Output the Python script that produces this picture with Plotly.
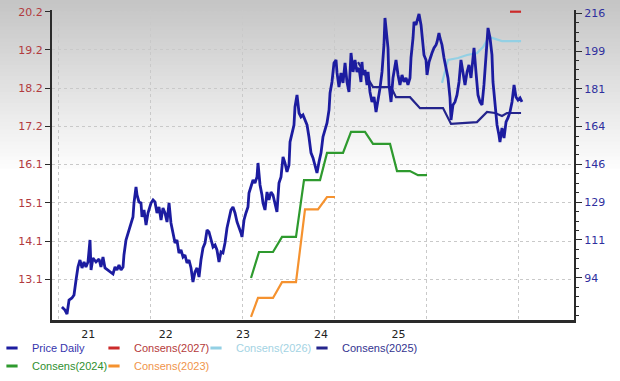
import plotly.graph_objects as go

# ---------------- data ----------------
price_t = [2021.043, 2021.076, 2021.098, 2021.120, 2021.152, 2021.174, 2021.196, 2021.217, 2021.239, 2021.261,
           2021.283, 2021.304, 2021.326, 2021.348, 2021.359, 2021.380, 2021.413, 2021.446, 2021.467, 2021.489,
           2021.511, 2021.543, 2021.576, 2021.598, 2021.620, 2021.641, 2021.663, 2021.685, 2021.707, 2021.717,
           2021.739, 2021.772, 2021.793, 2021.815, 2021.826, 2021.848, 2021.859, 2021.880, 2021.902, 2021.913,
           2021.935, 2021.957, 2021.978, 2022.011, 2022.033, 2022.054, 2022.076, 2022.098, 2022.120, 2022.141,
           2022.163, 2022.185, 2022.207, 2022.228, 2022.250, 2022.272, 2022.293, 2022.315, 2022.337, 2022.359,
           2022.380, 2022.402, 2022.424, 2022.446, 2022.467, 2022.489, 2022.511, 2022.533, 2022.554, 2022.576,
           2022.598, 2022.620, 2022.641, 2022.663, 2022.685, 2022.707, 2022.728, 2022.750, 2022.772, 2022.793,
           2022.815, 2022.837, 2022.859, 2022.880, 2022.902, 2022.924, 2022.946, 2022.967, 2022.989, 2023.000,
           2023.022, 2023.043, 2023.065, 2023.076, 2023.098, 2023.120, 2023.141, 2023.163, 2023.174, 2023.196,
           2023.217, 2023.228, 2023.250, 2023.272, 2023.293, 2023.315, 2023.337, 2023.359, 2023.380, 2023.402,
           2023.424, 2023.446, 2023.467, 2023.489, 2023.511, 2023.522, 2023.543, 2023.565, 2023.576, 2023.598,
           2023.620, 2023.641, 2023.663, 2023.685, 2023.707, 2023.728, 2023.750, 2023.772, 2023.793, 2023.815,
           2023.837, 2023.859, 2023.880, 2023.902, 2023.924, 2023.946, 2023.957, 2023.978, 2024.000, 2024.022,
           2024.033, 2024.054, 2024.076, 2024.098, 2024.120, 2024.141, 2024.163, 2024.185, 2024.207, 2024.228,
           2024.250, 2024.272, 2024.293, 2024.304, 2024.315, 2024.337, 2024.359, 2024.370, 2024.391, 2024.413,
           2024.435, 2024.457, 2024.478, 2024.500, 2024.522, 2024.543, 2024.554, 2024.565, 2024.587, 2024.598,
           2024.620, 2024.641, 2024.663, 2024.674, 2024.696, 2024.717, 2024.739, 2024.761, 2024.783, 2024.804,
           2024.826, 2024.837, 2024.859, 2024.870, 2024.891, 2024.913, 2024.924, 2024.946, 2024.967, 2024.978,
           2025.000, 2025.011, 2025.033, 2025.054, 2025.065, 2025.087, 2025.109, 2025.120, 2025.141, 2025.152,
           2025.174, 2025.196, 2025.217, 2025.239, 2025.261, 2025.272, 2025.293, 2025.315, 2025.337, 2025.359,
           2025.380, 2025.402, 2025.424, 2025.446, 2025.467, 2025.489, 2025.511, 2025.522, 2025.543, 2025.565,
           2025.587, 2025.609, 2025.630, 2025.652, 2025.663, 2025.674, 2025.696, 2025.717, 2025.728, 2025.750,
           2025.772, 2025.793, 2025.804, 2025.826, 2025.848, 2025.870, 2025.891, 2025.913, 2025.935, 2025.957,
           2025.978, 2026.000, 2026.022, 2026.043]
price_v = [80.31, 78.92, 77.07, 83.54, 84.46, 85.85, 92.78, 98.79, 102.02, 98.33,
           101.10, 98.79, 101.10, 111.26, 97.40, 102.94, 101.10, 102.48, 98.79, 103.41,
           98.33, 97.40, 96.48, 95.55, 98.79, 97.40, 99.71, 97.40, 98.79, 104.33,
           111.26, 115.88, 118.19, 121.89, 128.35, 135.75, 132.05, 128.82, 128.35, 121.89,
           125.12, 118.19, 123.73, 128.35, 129.74, 128.80, 123.73, 126.51, 120.50, 126.04,
           123.73, 119.58, 128.35, 119.11, 114.49, 109.87, 111.26, 105.25, 106.64, 103.41,
           104.33, 100.63, 102.02, 98.33, 91.86, 96.48, 98.33, 94.17, 102.02, 107.56,
           109.87, 115.88, 114.96, 111.26, 108.03, 108.95, 106.64, 101.10, 105.72, 105.25,
           109.87, 116.80, 121.89, 125.12, 126.51, 123.73, 119.58, 117.27, 114.49, 112.65,
           120.50, 123.73, 126.51, 132.97, 135.75, 138.98, 137.59, 140.37, 146.83, 136.67,
           132.05, 128.35, 125.12, 133.44, 129.74, 133.44, 132.05, 127.43, 124.20, 137.59,
           140.37, 149.61, 146.83, 142.68, 145.91, 156.54, 160.69, 164.39, 172.71, 178.25,
           169.93, 168.09, 169.01, 166.70, 164.39, 158.85, 151.53, 149.14, 144.99, 142.21,
           147.30, 151.53, 158.85, 162.08, 165.31, 171.32, 179.17, 184.26, 193.03, 194.42,
           188.41, 181.95, 188.41, 183.79, 193.03, 184.26, 179.64, 197.65, 188.88, 194.42,
           188.88, 190.72, 184.26, 193.50, 187.49, 189.80, 182.87, 188.88, 179.64, 175.02,
           177.33, 170.40, 175.02, 181.40, 188.88, 201.35, 213.82, 209.20, 199.96, 182.87,
           175.02, 186.10, 192.11, 194.42, 187.49, 182.87, 187.49, 184.26, 186.10, 182.87,
           186.10, 195.34, 204.58, 211.98, 210.59, 213.82, 215.67, 210.59, 202.74, 196.73,
           194.42, 187.49, 193.50, 196.73, 197.65, 199.96, 201.35, 202.74, 206.89, 204.58,
           201.35, 195.34, 190.72, 186.10, 176.86, 166.70, 173.63, 175.02, 178.25, 184.26,
           194.42, 188.88, 182.87, 188.88, 192.11, 186.10, 195.34, 199.96, 188.88, 178.25,
           175.02, 173.63, 182.87, 196.73, 207.36, 209.20, 204.58, 196.73, 184.26, 172.24,
           164.39, 159.77, 156.54, 163.00, 158.38, 165.78, 167.62, 170.40, 175.02, 182.87,
           177.33, 175.94, 176.86, 175.02]

cons2027_t = [2025.913, 2026.033]
cons2027_v = [20.20, 20.20]
cons2026_t = [2025.174, 2025.239, 2025.348, 2025.446, 2025.554, 2025.620, 2025.685, 2025.728, 2025.826, 2026.033]
cons2026_v = [18.31, 18.92, 18.97, 19.05, 19.10, 19.26, 19.53, 19.50, 19.42, 19.42]
cons2025_t = [2024.261, 2024.424, 2024.620, 2024.674, 2024.826, 2024.935, 2025.185, 2025.272, 2025.554,
              2025.663, 2025.750, 2025.826, 2025.880, 2026.033]
cons2025_v = [18.86, 18.20, 18.20, 17.93, 17.93, 17.64, 17.64, 17.22, 17.27, 17.54, 17.51, 17.43, 17.51, 17.51]
cons2024_t = [2023.098, 2023.185, 2023.337, 2023.435, 2023.587, 2023.674, 2023.848, 2023.924, 2024.098,
              2024.185, 2024.337, 2024.424, 2024.609, 2024.685, 2024.826, 2024.913, 2025.011]
cons2024_v = [13.13, 13.82, 13.82, 14.22, 14.22, 15.73, 15.73, 16.45, 16.45, 17.01, 17.01, 16.69, 16.69,
              15.97, 15.97, 15.86, 15.86]
cons2023_t = [2023.098, 2023.174, 2023.337, 2023.435, 2023.587, 2023.685, 2023.826, 2023.924, 2024.011]
cons2023_v = [12.10, 12.60, 12.60, 13.02, 13.02, 14.95, 14.95, 15.28, 15.28]

x_tick_pos = [2021.33, 2022.17, 2023.01, 2023.86, 2024.70]
x_tick_text = ["21", "22", "23", "24", "25"]
x_grid_pos = [2021, 2022, 2023, 2024, 2025, 2026]
eps_tick_pos = [13.095, 14.11, 15.125, 16.14, 17.155, 18.17, 19.185, 20.2]
eps_tick_text = ["13.1", "14.1", "15.1", "16.1", "17.2", "18.2", "19.2", "20.2"]
price_tick_pos = [93.85, 111.3, 128.75, 146.2, 163.65, 181.1, 198.55, 216.0]
price_tick_text = ["94", "111", "129", "146", "164", "181", "199", "216"]

# ---------------- styles ----------------
W, H = 620, 381
L, R, T, B = 52, 46, 10, 61
series = [
    # name, x, y, axis, line colour, legend text colour, width, legend id, legend x(px), legend row y(px)
    ("Price Daily", price_t, price_v, "y2", "#1c1ca0", "#3535ad", 2.8, "legend", 0, 348),
    ("Consens(2027)", cons2027_t, cons2027_v, "y", "#cc2a2a", "#b53a3a", 2.2, "legend2", 102, 348),
    ("Consens(2026)", cons2026_t, cons2026_v, "y", "#93d0e4", "#a3d3e3", 2.2, "legend3", 204, 348),
    ("Consens(2025)", cons2025_t, cons2025_v, "y", "#24248c", "#33338f", 2.2, "legend4", 310, 348),
    ("Consens(2024)", cons2024_t, cons2024_v, "y", "#2e9a2e", "#2f8f2f", 2.2, "legend5", 0, 366),
    ("Consens(2023)", cons2023_t, cons2023_v, "y", "#f5922f", "#f0944a", 2.2, "legend6", 102, 366),
]

fig = go.Figure()

# consensus lines first (left axis), price on top (right axis)
for name, xs, ys, yax, col, tcol, w, leg, lx, ly in series[1:] + series[:1]:
    fig.add_trace(go.Scatter(x=xs, y=ys, yaxis=yax, mode="lines", name=name,
                             line=dict(color=col, width=w), legendgroup=name,
                             showlegend=False, hoverinfo="x+y+name"))

# legend entries (short dash symbol, coloured text)
legends = {}
for name, xs, ys, yax, col, tcol, w, leg, lx, ly in series:
    fig.add_trace(go.Scatter(x=[None], y=[None], yaxis=yax, mode="markers",
                             name=f'<span style="color:{tcol}">{name}</span>',
                             marker=dict(symbol="line-ew-open", size=8, color=col,
                                         line=dict(color=col, width=3)),
                             legendgroup=name, legend=leg, showlegend=True))
    legends[leg] = dict(orientation="h", xref="container", yref="container",
                        x=lx / W, y=1 - ly / H, xanchor="left", yanchor="middle",
                        itemwidth=30, indentation=-8, font=dict(family="Liberation Sans", size=11),
                        bgcolor="rgba(0,0,0,0)", borderwidth=0)

# soft grey-to-white background gradient at the top
ph = H - T - B
shapes = []
n = 44
grad_end = 168
for i in range(n):
    y_top = i * grad_end / n
    y_bot = (i + 1) * grad_end / n + 0.8
    g = int(round(196 + (253 - 196) * (i + 0.5) / n))
    shapes.append(dict(type="rect", xref="paper", yref="paper", x0=-0.2, x1=1.2,
                       y0=(H - B - y_bot) / ph, y1=(H - B - y_top) / ph,
                       fillcolor=f"rgb({g},{g},{g})", line=dict(width=0), layer="below"))

grid = dict(gridcolor="#c9c9c9", griddash="3px,3px", gridwidth=1)
tickfont = dict(family="DejaVu Sans", size=11)

fig.update_layout(
    template="none",
    width=W, height=H,
    margin=dict(l=L, r=R, t=T, b=B, autoexpand=False),
    paper_bgcolor="white", plot_bgcolor="rgba(0,0,0,0)",
    font=dict(family="DejaVu Sans", size=11, color="#222222"),
    shapes=shapes,
    hovermode="closest",
    xaxis=dict(range=[2020.9348, 2026.6087], tickmode="array", tickvals=x_tick_pos, ticktext=x_tick_text,
               automargin=False, showgrid=False, zeroline=False, showline=True, linecolor="#2a2a2a",
               linewidth=3, ticks="", ticklabelstandoff=2,
               tickfont=dict(family="DejaVu Sans", size=11, color="#222222"),
               minor=dict(tickmode="array", tickvals=x_grid_pos, showgrid=True, ticks="", **grid)),
    yaxis=dict(range=[12.015, 20.245], tickmode="array", tickvals=eps_tick_pos, ticktext=eps_tick_text,
               automargin=False, showgrid=True, **grid, zeroline=False, showline=True,
               linecolor="#2a2a2a", linewidth=2,
               ticks="outside", ticklen=5, tickwidth=1, tickcolor="#2a2a2a",
               tickfont=dict(tickfont, color="#b23a3e")),
    yaxis2=dict(range=[74.3, 217.5], overlaying="y", side="right", tickmode="array",
                tickvals=price_tick_pos, ticktext=price_tick_text, showgrid=False, zeroline=False,
                automargin=False, showline=True, linecolor="#2a2a2a", linewidth=2,
                ticks="outside", ticklen=6, tickwidth=1, tickcolor="#2a2a2a",
                minor=dict(tickmode="linear", tick0=93.85, dtick=4.3625, ticks="outside",
                           ticklen=3, tickwidth=1, tickcolor="#2a2a2a", showgrid=False),
                tickfont=dict(tickfont, color="#2f2f9e")),
    **legends,
)

fig.write_html("out.html", config={"displayModeBar": False},
               post_script="document.body.style.margin='0px';document.body.style.overflow='hidden';")
